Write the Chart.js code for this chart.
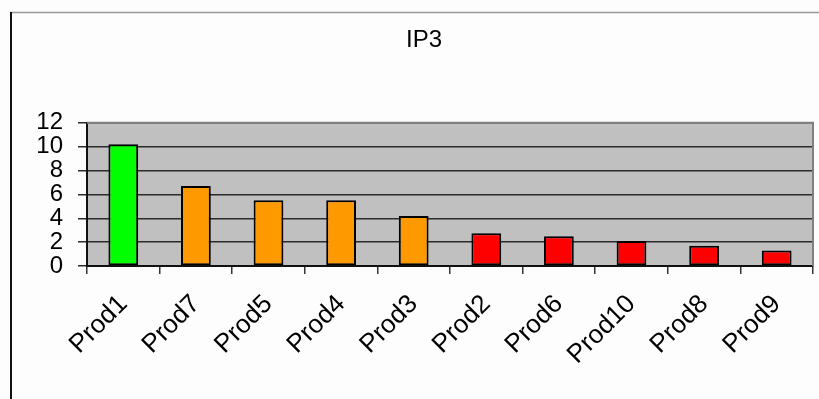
<!DOCTYPE html>
<html>
<head>
<meta charset="utf-8">
<script src="https://cdn.jsdelivr.net/npm/chart.js@4/dist/chart.umd.min.js"></script>
<style>
  html, body { margin: 0; padding: 0; background: #fdfdfd; }
  #wrap { position: relative; width: 819px; height: 399px; }
  canvas { display: block; }
</style>
</head>
<body>
<div id="wrap"><canvas id="c" width="819" height="399"></canvas></div>
<script>
const categories = ['Prod1','Prod7','Prod5','Prod4','Prod3','Prod2','Prod6','Prod10','Prod8','Prod9'];
const values = [10.2, 6.7, 5.5, 5.5, 4.2, 2.75, 2.5, 2.1, 1.7, 1.3];
const barColors = ['#00ff00','#ff9900','#ff9900','#ff9900','#ff9900','#ff0000','#ff0000','#ff0000','#ff0000','#ff0000'];
const yTicks = [0, 2, 4, 6, 8, 10, 12];
const titleText = 'IP3';

const framePlugin = {
  id: 'frame',
  beforeDraw(chart) {
    const ctx = chart.ctx, a = chart.chartArea;
    ctx.save();
    ctx.fillStyle = '#fdfdfd';
    ctx.fillRect(0, 0, chart.width, chart.height);
    ctx.strokeStyle = '#999999';
    ctx.lineWidth = 1.5;
    ctx.beginPath();
    ctx.moveTo(10, 12.5); ctx.lineTo(chart.width, 12.5);
    ctx.stroke();
    ctx.strokeStyle = '#111111';
    ctx.lineWidth = 2;
    ctx.beginPath();
    ctx.moveTo(11, 12); ctx.lineTo(11, chart.height);
    ctx.stroke();
    ctx.fillStyle = '#c0c0c0';
    ctx.fillRect(a.left, a.top, a.right - a.left, a.bottom - a.top);
    ctx.restore();
  },
  afterDatasetsDraw(chart) {
    const ctx = chart.ctx, a = chart.chartArea;
    ctx.save();
    ctx.strokeStyle = '#808080';
    ctx.lineWidth = 2;
    ctx.beginPath();
    ctx.moveTo(a.left, a.top); ctx.lineTo(a.right, a.top); ctx.lineTo(a.right, a.bottom);
    ctx.stroke();
    ctx.restore();
  }
};

new Chart(document.getElementById('c'), {
  type: 'bar',
  data: {
    labels: categories,
    datasets: [{
      data: values,
      backgroundColor: barColors,
      borderColor: '#000000',
      borderWidth: 2,
      borderSkipped: false,
      categoryPercentage: 1.0,
      barPercentage: 0.41
    }]
  },
  options: {
    responsive: false,
    animation: false,
    devicePixelRatio: 1,
    layout: { padding: { left: 35, right: 6, top: 0, bottom: 0 } },
    plugins: {
      legend: { display: false },
      tooltip: { enabled: false },
      title: {
        display: true,
        text: titleText,
        color: '#000000',
        font: { family: 'Liberation Sans, Arial, sans-serif', size: 24, weight: 'normal' },
        padding: { top: 26, bottom: 68 }
      }
    },
    scales: {
      x: {
        offset: true,
        grid: { display: true, drawOnChartArea: false, drawTicks: true, tickLength: 8, color: '#333333', lineWidth: 1.5, offset: true },
        border: { display: true, color: '#111111', width: 2 },
        ticks: {
          color: '#000000',
          font: { family: 'Liberation Sans, Arial, sans-serif', size: 26 },
          maxRotation: 45, minRotation: 45,
          padding: 15,
          autoSkip: false
        },
        afterFit(scale) { scale.height = 133; }
      },
      y: {
        min: 0, max: 12,
        afterBuildTicks(scale) { scale.ticks = yTicks.map(v => ({ value: v })); },
        grid: { color: '#2a2a2a', lineWidth: 1.5, tickLength: 9, drawTicks: true },
        border: { display: true, color: '#111111', width: 2 },
        ticks: {
          color: '#000000',
          font: { family: 'Liberation Sans, Arial, sans-serif', size: 24 },
          padding: 15,
          autoSkip: false
        },
        afterFit(scale) { scale.width = 52; }
      }
    }
  },
  plugins: [framePlugin]
});
</script>
</body>
</html>
